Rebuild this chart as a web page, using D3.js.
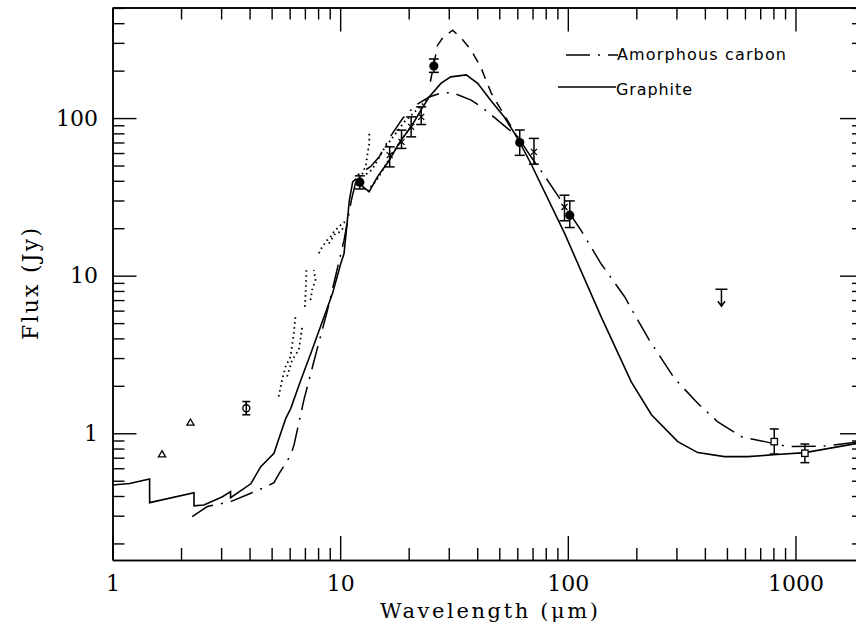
<!DOCTYPE html>
<html>
<head>
<meta charset="utf-8">
<script src="https://cdn.jsdelivr.net/npm/d3@7"></script>
<style>
  html, body { margin: 0; padding: 0; background: #fff; }
  svg { display: block; }
  .tick text { font-family: "DejaVu Serif", serif; font-size: 22px; fill: #000; }
</style>
</head>
<body>
<div id="chart"></div>
<script>
// ---- data ----
const graphiteX = [1.0, 1.19, 1.455, 1.456, 2.28, 2.281, 2.52, 3.04, 3.3, 3.301, 4.05, 4.48, 5.12, 5.77, 6.07, 6.72, 7.43, 9.26, 10.07, 10.4, 10.98, 11.35, 11.7, 12.5, 13.4, 14.6, 16.3, 18.5, 20.5, 22.6, 24.6, 27.7, 30.6, 35.8, 40.2, 46, 52.6, 60.3, 68.8, 96.7, 140, 190, 233, 304, 372, 488, 618, 800, 1100, 1880, 2000];
const graphiteY = [0.47, 0.48, 0.513, 0.363, 0.42, 0.346, 0.351, 0.396, 0.426, 0.39, 0.478, 0.614, 0.747, 1.245, 1.44, 2.18, 3.21, 7.72, 12, 13.8, 30.2, 39.4, 41, 37, 34.1, 42.5, 53, 72.5, 88, 112, 136, 166, 182.5, 188, 166, 129, 101.6, 74, 51.5, 18.6, 5.5, 2.12, 1.31, 0.885, 0.754, 0.711, 0.711, 0.73, 0.754, 0.864, 0.875];

const amorphousX = [2.24, 2.61, 3.3, 4.05, 4.71, 5.12, 5.4, 6.07, 6.27, 6.93, 7.8, 8.8, 9.57, 10.4, 11.2, 11.9, 13.6, 14.85, 16.4, 18.8, 21.5, 24.6, 27.7, 31.2, 37.6, 42.3, 46, 60.3, 68.8, 78.8, 90.7, 114, 140, 177.6, 203, 228, 294, 372, 456, 586, 733, 928, 1340, 2000];
const amorphousY = [0.296, 0.343, 0.368, 0.416, 0.457, 0.486, 0.557, 0.728, 0.843, 1.63, 3.14, 6.05, 10.1, 16.8, 30.1, 43.5, 49.1, 56.8, 74.3, 99.4, 121, 136, 144, 145, 130, 116, 105, 76, 57, 43.3, 32, 19.5, 11.9, 7.35, 5.23, 3.9, 2.23, 1.55, 1.18, 0.943, 0.885, 0.823, 0.83, 0.89];

const dashedX = [24.9, 26.8, 28.3, 31.2, 34, 37.6, 41.5, 46, 48, 53.6, 60.3];
const dashedY = [170, 290, 325, 361, 322, 270, 210, 145, 130, 100, 74.6];

// dotted spectra, one trace per array pair
const spectraX = [
  [5.37, 5.56, 5.75, 6.05, 6.26, 6.37],
  [5.85, 6.15, 6.58, 6.69, 6.81],
  [7.0, 7.05, 7.09, 7.11],
  [7.41, 7.53, 7.79, 7.66],
  [8.06, 8.33, 8.77, 9.07, 9.38, 9.70, 10.04, 10.38, 10.63],
  [8.92, 9.52, 10.04, 10.38],
  [12.12, 12.54, 12.98, 13.2, 13.43, 13.43],
  [13.0, 13.8, 14.6, 15.6, 16.6, 17.8, 19.2, 20.8, 22.4, 24.0],
  [13.6, 14.3, 15.0, 15.8, 16.8, 18.0, 19.5, 21.0]
];
const spectraY = [
  [1.71, 2.18, 2.64, 3.06, 4.31, 5.62],
  [2.29, 2.92, 3.37, 3.91, 4.74],
  [6.35, 7.73, 9.38, 11.1],
  [7.0, 8.11, 9.38, 10.85],
  [13.85, 15.2, 16.8, 17.6, 19.0, 19.9, 20.9, 21.5, 23.1],
  [16.0, 18.5, 19.0, 20.4],
  [41.4, 44.5, 50.3, 59.7, 69, 81.7],
  [44, 47, 54, 64, 72, 82, 95, 106, 118, 130],
  [36.5, 39.5, 44, 50, 58, 68, 80, 93]
];

// photometry
const triangleX = [1.65, 2.2];
const triangleY = [0.73, 1.16];

const openCircleX = [3.87];
const openCircleY = [1.44];
const openCircleLo = [1.31];
const openCircleHi = [1.59];

const filledX = [12.2, 25.8, 61.5, 102];
const filledY = [39.2, 214, 70, 24.2];
const filledLo = [35.5, 195, 58, 20.2];
const filledHi = [43, 237, 84, 29.8];

const crossX = [16.5, 18.6, 20.5, 22.7, 71, 96.7];
const crossY = [58.2, 70.6, 87.9, 101.8, 61, 27.3];
const crossLo = [49, 64.2, 76, 91, 51, 22.3];
const crossHi = [65.7, 83.8, 101.8, 117.8, 74.3, 32.4];

const squareX = [807, 1100];
const squareY = [0.885, 0.747];
const squareLo = [0.739, 0.651];
const squareHi = [1.065, 0.855];

const limitX = [473];
const limitY = [8.2];

const xMajor = [1, 10, 100, 1000];
const yMajor = [1, 10, 100];
const yLabels = ['1', '10', '100'];
const xLabels = ['1', '10', '100', '1000'];

// ---- drawing ----
const width = 856, height = 629;
const svg = d3.select('#chart').append('svg')
  .attr('width', width)
  .attr('height', height);

const x = d3.scaleLog().domain([1, 2000]).range([112.5, 864]);
const y = d3.scaleLog().domain([0.157, 503]).range([560, 7.5]);

const [x0, x1] = x.range();
const [y0, y1] = y.range();

const xMinor = x.ticks().filter(d => !xMajor.includes(d) && d < 2000);
const yMinor = y.ticks().filter(d => !yMajor.includes(d) && d <= 500);

function styleAxis(g) {
  g.selectAll('path.domain').attr('stroke', '#000').attr('stroke-width', 1.5);
  g.selectAll('.tick line').attr('stroke', '#000').attr('stroke-width', 1.4);
}

// bottom
svg.append('g').attr('transform', `translate(0,${y0})`)
  .call(d3.axisBottom(x).tickValues(xMajor).tickSizeInner(-24).tickSizeOuter(0).tickPadding(15)
    .tickFormat((d, i) => xLabels[i]))
  .call(styleAxis);
svg.append('g').attr('transform', `translate(0,${y0})`)
  .call(d3.axisBottom(x).tickValues(xMinor).tickSizeInner(-12).tickSizeOuter(0).tickFormat(''))
  .call(styleAxis);
// top
svg.append('g').attr('transform', `translate(0,${y1})`)
  .call(d3.axisTop(x).tickValues(xMajor).tickSizeInner(-24).tickSizeOuter(0).tickFormat(''))
  .call(styleAxis);
svg.append('g').attr('transform', `translate(0,${y1})`)
  .call(d3.axisTop(x).tickValues(xMinor).tickSizeInner(-12).tickSizeOuter(0).tickFormat(''))
  .call(styleAxis);
// left
svg.append('g').attr('transform', `translate(${x0},0)`)
  .call(d3.axisLeft(y).tickValues(yMajor).tickSizeInner(-24).tickSizeOuter(0).tickPadding(14.5)
    .tickFormat((d, i) => yLabels[i]))
  .call(styleAxis);
svg.append('g').attr('transform', `translate(${x0},0)`)
  .call(d3.axisLeft(y).tickValues(yMinor).tickSizeInner(-12).tickSizeOuter(0).tickFormat(''))
  .call(styleAxis);
// right
svg.append('g').attr('transform', `translate(${x1},0)`)
  .call(d3.axisRight(y).tickValues(yMajor).tickSizeInner(-24).tickSizeOuter(0).tickFormat(''))
  .call(styleAxis);
svg.append('g').attr('transform', `translate(${x1},0)`)
  .call(d3.axisRight(y).tickValues(yMinor).tickSizeInner(-12).tickSizeOuter(0).tickFormat(''))
  .call(styleAxis);

// axis titles
svg.append('text')
  .attr('x', 489).attr('y', 618)
  .attr('text-anchor', 'middle')
  .attr('textLength', 218).attr('lengthAdjust', 'spacing')
  .style('font-family', '"DejaVu Serif", serif').style('font-size', '21px')
  .text('Wavelength (μm)');

svg.append('text')
  .attr('transform', 'translate(38,284) rotate(-90)')
  .attr('text-anchor', 'middle')
  .attr('textLength', 112).attr('lengthAdjust', 'spacing')
  .style('font-family', '"DejaVu Serif", serif').style('font-size', '22px')
  .text('Flux (Jy)');

// curves
const plot = svg.append('g');
const line = d3.line().x(d => x(d[0])).y(d => y(d[1]));

plot.append('path')
  .attr('d', line(d3.zip(graphiteX, graphiteY)))
  .attr('fill', 'none').attr('stroke', '#000').attr('stroke-width', 1.6);

plot.append('path')
  .attr('d', line(d3.zip(amorphousX, amorphousY)))
  .attr('fill', 'none').attr('stroke', '#000').attr('stroke-width', 1.5)
  .attr('stroke-dasharray', '24,8,2,8');

plot.append('path')
  .attr('d', line(d3.zip(dashedX, dashedY)))
  .attr('fill', 'none').attr('stroke', '#000').attr('stroke-width', 1.5)
  .attr('stroke-dasharray', '10,8');

spectraX.forEach((xs, i) => {
  plot.append('path')
    .attr('d', line(d3.zip(xs, spectraY[i])))
    .attr('fill', 'none').attr('stroke', '#000').attr('stroke-width', 1.8)
    .attr('stroke-dasharray', '1.6,3.4');
});

// error bars
function errorBars(xs, lo, hi, cap) {
  const g = plot.append('g').attr('stroke', '#000').attr('stroke-width', 1.5);
  xs.forEach((xv, i) => {
    const cx = x(xv);
    g.append('line').attr('x1', cx).attr('x2', cx).attr('y1', y(lo[i])).attr('y2', y(hi[i]));
    g.append('line').attr('x1', cx - cap).attr('x2', cx + cap).attr('y1', y(lo[i])).attr('y2', y(lo[i]));
    g.append('line').attr('x1', cx - cap).attr('x2', cx + cap).attr('y1', y(hi[i])).attr('y2', y(hi[i]));
  });
}

errorBars(openCircleX, openCircleLo, openCircleHi, 4);
errorBars(filledX, filledLo, filledHi, 5);
errorBars(crossX, crossLo, crossHi, 5);
errorBars(squareX, squareLo, squareHi, 4.5);

// triangles
plot.selectAll('.tri').data(d3.zip(triangleX, triangleY)).join('path')
  .attr('class', 'tri')
  .attr('d', d3.symbol(d3.symbolTriangle, 22))
  .attr('transform', d => `translate(${x(d[0])},${y(d[1])})`)
  .attr('fill', 'none').attr('stroke', '#000').attr('stroke-width', 1.3);

// open circle
plot.selectAll('.ocirc').data(d3.zip(openCircleX, openCircleY)).join('circle')
  .attr('class', 'ocirc')
  .attr('cx', d => x(d[0])).attr('cy', d => y(d[1])).attr('r', 3.5)
  .attr('fill', '#fff').attr('stroke', '#000').attr('stroke-width', 1.4);
plot.selectAll('.ocircbar').data(d3.zip(openCircleX, openCircleLo, openCircleHi)).join('line')
  .attr('class', 'ocircbar')
  .attr('x1', d => x(d[0])).attr('x2', d => x(d[0]))
  .attr('y1', d => y(d[1])).attr('y2', d => y(d[2]))
  .attr('stroke', '#000').attr('stroke-width', 1.5);

// filled circles
plot.selectAll('.fcirc').data(d3.zip(filledX, filledY)).join('circle')
  .attr('class', 'fcirc')
  .attr('cx', d => x(d[0])).attr('cy', d => y(d[1])).attr('r', 4.6)
  .attr('fill', '#000');

// crosses
plot.selectAll('.cross').data(d3.zip(crossX, crossY)).join('path')
  .attr('class', 'cross')
  .attr('d', 'M-3,-3L3,3M-3,3L3,-3')
  .attr('transform', d => `translate(${x(d[0])},${y(d[1])})`)
  .attr('stroke', '#000').attr('stroke-width', 1.3);

// squares
plot.selectAll('.sq').data(d3.zip(squareX, squareY)).join('rect')
  .attr('class', 'sq')
  .attr('x', d => x(d[0]) - 3.2).attr('y', d => y(d[1]) - 3.2)
  .attr('width', 6.4).attr('height', 6.4)
  .attr('fill', '#fff').attr('stroke', '#000').attr('stroke-width', 1.3);

// upper limit
const lim = plot.selectAll('.lim').data(d3.zip(limitX, limitY)).join('g')
  .attr('class', 'lim')
  .attr('transform', d => `translate(${x(d[0])},${y(d[1])})`)
  .attr('stroke', '#000').attr('stroke-width', 1.5).attr('fill', 'none');
lim.append('path').attr('d', 'M-6,0H6M0,0V17M-3.5,12L0,17L3.5,12');

// legend
const legend = svg.append('g')
  .style('font-family', '"DejaVu Sans", sans-serif').style('font-size', '16px');
legend.append('line')
  .attr('x1', 566).attr('x2', 618).attr('y1', 55).attr('y2', 55)
  .attr('stroke', '#000').attr('stroke-width', 1.5).attr('stroke-dasharray', '24,8,2,8');
legend.append('text')
  .attr('x', 617).attr('y', 60)
  .attr('textLength', 169).attr('lengthAdjust', 'spacing')
  .text('Amorphous carbon');
legend.append('line')
  .attr('x1', 558).attr('x2', 616).attr('y1', 87).attr('y2', 87)
  .attr('stroke', '#000').attr('stroke-width', 1.6);
legend.append('text')
  .attr('x', 616).attr('y', 95)
  .attr('textLength', 76).attr('lengthAdjust', 'spacing')
  .text('Graphite');
</script>
</body>
</html>
